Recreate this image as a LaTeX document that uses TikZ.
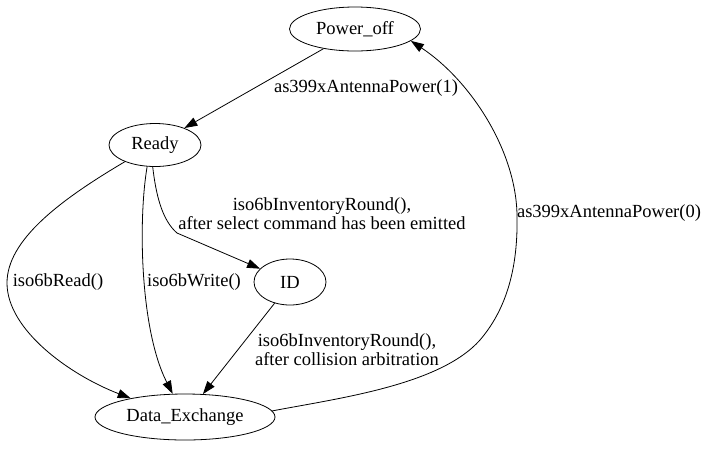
\documentclass[tikz,border=0pt]{standalone}
\usepackage{fontspec}
\setmainfont{Liberation Serif}
\usepackage{tikz}
\usetikzlibrary{shapes.geometric,arrows.meta}
\tikzset{
    state-node/.style = {draw, ellipse, line width=0.8pt, inner sep=0pt, minimum height=44pt, font=\fontsize{18.5}{20}\selectfont},
    edge-label/.style = {align=center, inner sep=0pt, font=\fontsize{18.5}{19}\selectfont},
    transition/.style = {draw, line width=0.8pt, -{Triangle[length=13pt,width=9pt]}},
}

\begin{document}
\begin{tikzpicture}[x=1pt,y=-1pt]
\useasboundingbox (0,0) rectangle (709,448);

% states
\node [state-node, minimum width=131pt] (power-off) at (355,29) {Power\_off};
\node [state-node, minimum width=92pt, minimum height=43pt] (ready) at (155,145) {Ready};
\node [state-node, minimum width=72pt, minimum height=46pt] (id) at (290,282) {ID};
\node [state-node, minimum width=180pt, minimum height=46pt] (data-exchange) at (185,417) {Data\_Exchange};

% transitions
\draw [transition] (power-off.212) -- (ready.30);
\draw [transition] (ready.209) .. controls (60,200) and (7,240) .. (7,283)
    .. controls (7,330) and (70,375) .. (data-exchange.161);
\draw [transition] (ready.250) .. controls (138,220) and (140,330) .. (data-exchange.118);
\draw [transition] (ready.264) .. controls (156,195) and (162,220) .. (177,233) -- (id.156);
\draw [transition] (id.234) -- (data-exchange.52);
\draw [transition] (data-exchange.4) .. controls (340,398) and (440,385) .. (480,340)
    .. controls (510,305) and (518,260) .. (517,215)
    .. controls (516,150) and (470,80) .. (power-off.348);

% labels
\node [edge-label] (lbl-power-on) at (366,88) {as399xAntennaPower(1)};
\node [edge-label] (lbl-select) at (322,214) {iso6bInventoryRound(),\\after select command has been emitted};
\node [edge-label] (lbl-power-off) at (609,213) {as399xAntennaPower(0)};
\node [edge-label] (lbl-read) at (58,282) {iso6bRead()};
\node [edge-label] (lbl-write) at (194,282) {iso6bWrite()};
\node [edge-label] (lbl-collision) at (347,350) {iso6bInventoryRound(),\\after collision arbitration};
\end{tikzpicture}
\end{document}
